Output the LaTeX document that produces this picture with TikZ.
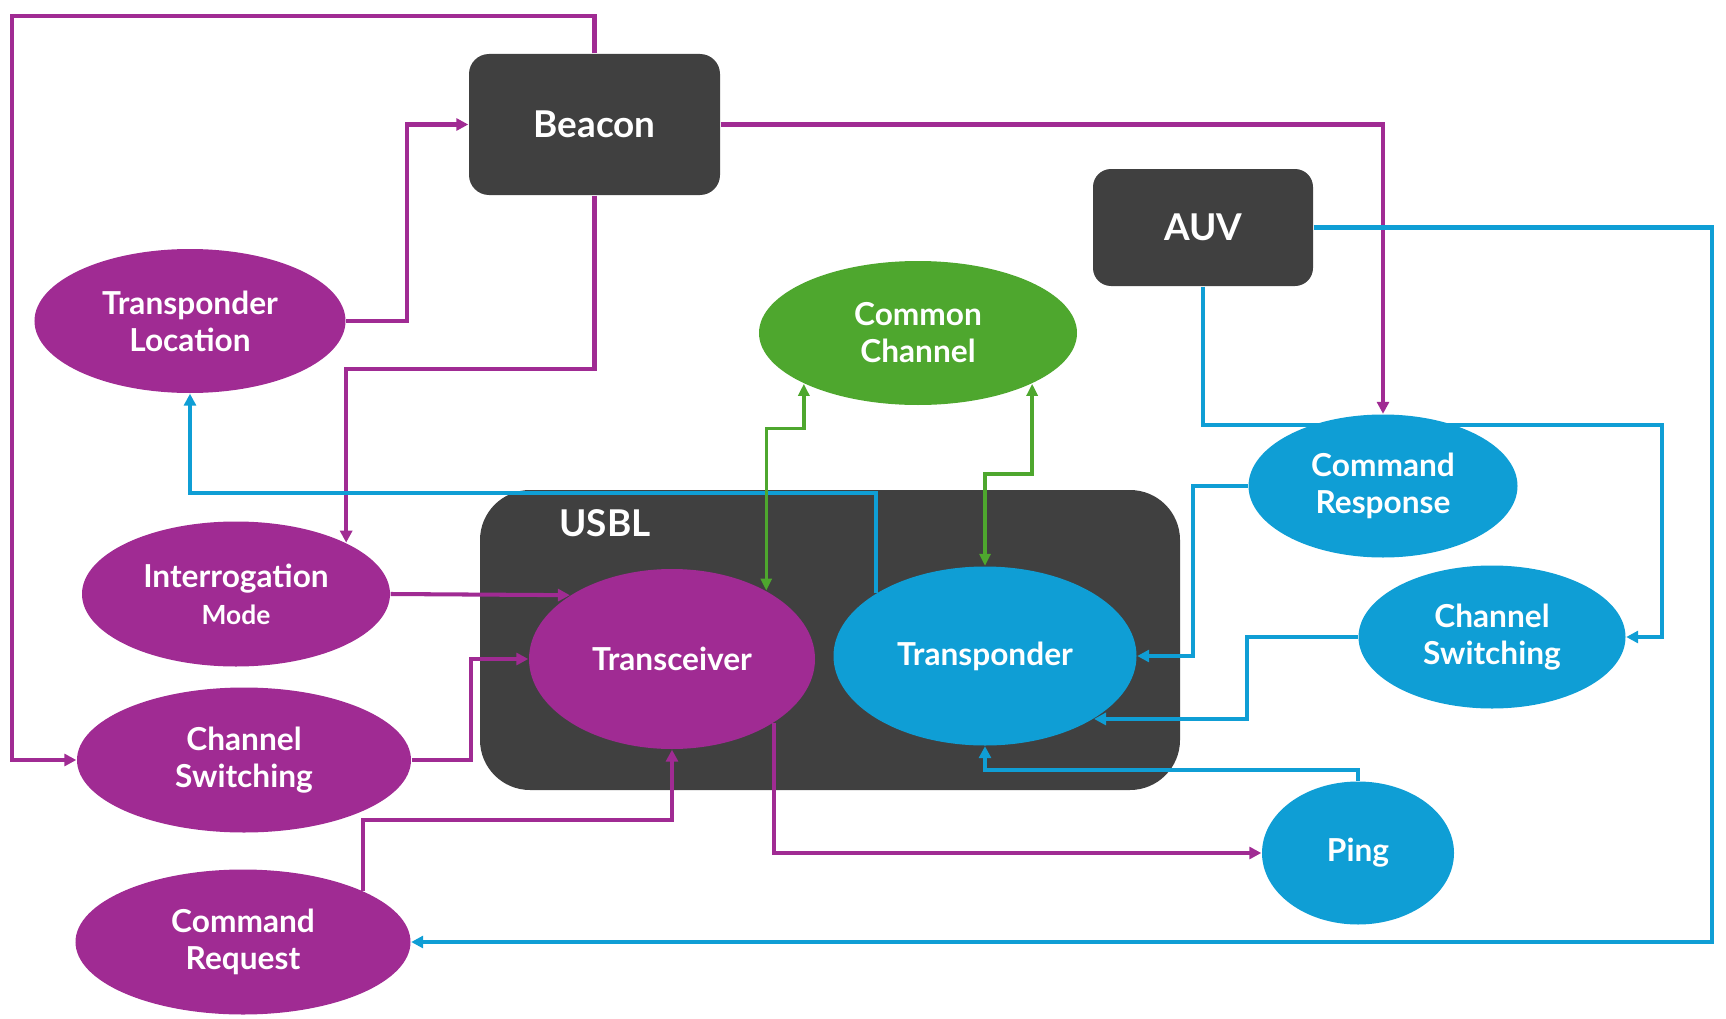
\documentclass[tikz,border=0pt]{standalone}
\usepackage{fontspec}
\setmainfont{Lato}
\usetikzlibrary{shapes.geometric, arrows.meta, positioning, calc}
\definecolor{mauve}{HTML}{A02B93}
\definecolor{sky}{HTML}{0F9ED5}
\definecolor{leaf}{HTML}{4EA72E}
\definecolor{slate}{HTML}{404040}
\pgfdeclarelayer{back}
\pgfdeclarelayer{wires}
\pgfsetlayers{back,wires,main}

\begin{document}
\begin{tikzpicture}[
	box/.style={rectangle, rounded corners=0.2cm, fill=slate, text=white, inner sep=0pt, font=\fontsize{10.5}{12}\selectfont\bfseries},
	oval/.style={ellipse, inner sep=0pt, text=white, align=center, font=\fontsize{9}{10.5}\selectfont\bfseries},
	tip/.style={-{Triangle[length=1.2mm,width=1.2mm]}},
	pwire/.style={tip, mauve, line width=1.15pt},
	bwire/.style={tip, sky, line width=1.15pt},
	gwire/.style={{Triangle[length=1.2mm,width=1.1mm]}-{Triangle[length=1.2mm,width=1.1mm]}, leaf, line width=1pt}
	]
	\useasboundingbox (0,0) rectangle (17.26,10.18);
	% USBL housing
	\begin{pgfonlayer}{back}
		\node[box, rounded corners=0.5cm, minimum width=7cm, minimum height=3cm] (USBL) at (8.30,3.78) {};
	\end{pgfonlayer}
	\node[text=white, font=\fontsize{10.5}{12}\selectfont\bfseries] (USBLtag) at (6.05,4.95) {USBL};
	% vehicles
	\node[box, minimum width=2.51cm, minimum height=1.41cm] (BC) at (5.945,8.935) {Beacon};
	\node[box, rounded corners=0.18cm, minimum width=2.2cm, minimum height=1.17cm] (AUV) at (12.03,7.905) {AUV};
	% beacon side
	\node[oval, fill=mauve, minimum width=3.11cm, minimum height=1.44cm] (TL) at (1.90,6.97) {Transponder\\Location};
	\node[oval, fill=mauve, minimum width=3.08cm, minimum height=1.45cm] (IM) at (2.36,4.24) {Interrogation\\{\fontsize{7.5}{9}\selectfont Mode}};
	\node[oval, fill=mauve, minimum width=3.34cm, minimum height=1.45cm] (CSP) at (2.44,2.58) {Channel\\Switching};
	\node[oval, fill=mauve, minimum width=3.35cm, minimum height=1.45cm] (CQ) at (2.43,0.76) {Command\\Request};
	\node[oval, fill=mauve, minimum width=2.86cm, minimum height=1.80cm] (TRC) at (6.72,3.59) {Transceiver};
	% AUV side
	\node[oval, fill=leaf, minimum width=3.18cm, minimum height=1.44cm] (CC) at (9.18,6.85) {Common\\Channel};
	\node[oval, fill=sky, minimum width=3.03cm, minimum height=1.79cm] (TRP) at (9.85,3.62) {Transponder};
	\node[oval, fill=sky, minimum width=2.69cm, minimum height=1.43cm] (CR) at (13.83,5.32) {Command\\Response};
	\node[oval, fill=sky, minimum width=2.67cm, minimum height=1.43cm] (CSB) at (14.92,3.81) {Channel\\Switching};
	\node[oval, fill=sky, minimum width=1.92cm, minimum height=1.43cm] (PING) at (13.58,1.65) {Ping};
	\coordinate (TOP) at (0.12,10.02);
	\coordinate (RIM) at (16.62,5.93);
	\begin{pgfonlayer}{wires}
		% beacon links
		\draw[pwire] (BC.north) |- (TOP) |- (CSP.west);
		\draw[pwire] (TL.east) -- ++(0.61,0) |- (BC.west);
		\draw[pwire] (BC.south) -- ++(0,-1.73) -| (IM.25);
		\draw[pwire] (BC.east) -| (CR.north);
		\draw[pwire] (IM.east) -- (TRC.148);
		\draw[pwire] (CSP.east) -- ++(0.59,0) |- (TRC.west);
		\draw[pwire] (CQ.23) -- ++(0,0.71) -| (TRC.south);
		\draw[pwire] (TRC.-32.6) |- (PING.west);
		% AUV links
		\draw[bwire] (AUV.east) -- ++(3.98,0) |- (CQ.east);
		\draw[bwire] (AUV.south) |- (RIM) |- (CSB.east);
		\draw[bwire] (CR.west) -- ++(-0.55,0) |- (TRP.east);
		\draw[bwire] (CSB.west) -- ++(-1.11,0) |- (TRP.-30);
		\draw[bwire] (PING.north) -- ++(0,0.11) -| (TRP.south);
		\draw[bwire] (TRP.150) -- ++(0,1.0) -| (TL.south);
		% common channel
		\draw[gwire] (TRC.36) -- ++(0,1.62) -| (CC.204);
		\draw[gwire] (TRP.north) -- ++(0,0.92) -| (CC.-24);
	\end{pgfonlayer}
\end{tikzpicture}
\end{document}
